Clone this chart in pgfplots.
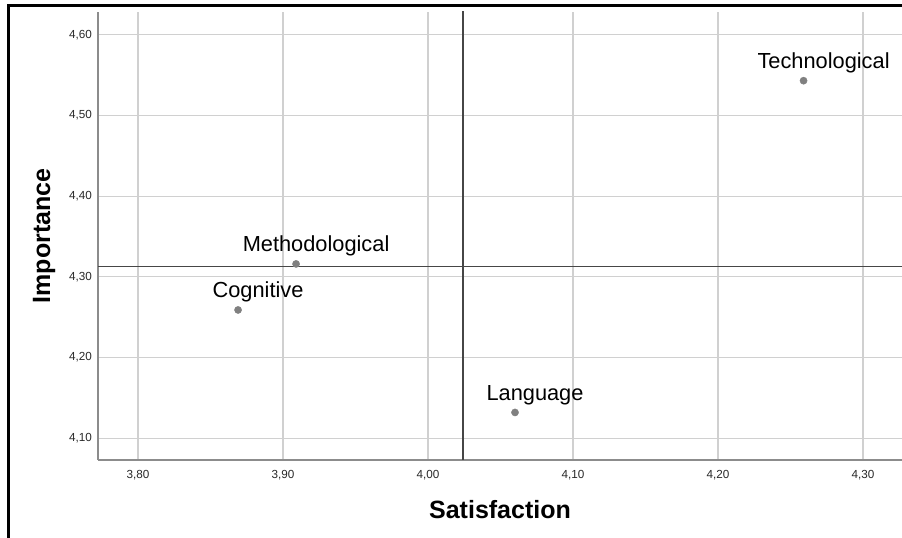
\documentclass[border=0pt]{standalone}
\usepackage{pgfplots}
\pgfplotsset{compat=1.18}
\usepackage{fontspec}
\setmainfont{Liberation Sans}

\definecolor{gridgray}{RGB}{208,208,208}
\definecolor{axisgray}{RGB}{140,140,140}
\definecolor{refgray}{RGB}{70,70,70}
\definecolor{markgray}{RGB}{128,128,128}
\definecolor{ticktext}{RGB}{40,40,40}

% Mean satisfaction and importance per area
\pgfplotstableread{
x      y      label
4.259  4.543  Technological
3.909  4.316  Methodological
3.869  4.259  Cognitive
4.060  4.132  Language
}\areas

\begin{document}
\begin{tikzpicture}
\useasboundingbox (0,0) rectangle (902bp,538bp);
% outer frame (top and left edges)
\draw[black, line width=3bp] (8bp,-5bp) -- (8bp,532.5bp) -- (910bp,532.5bp);
\begin{axis}[
  at={(98bp,78bp)}, anchor=south west,
  scale only axis, width=804bp, height=448bp,
  xmin=3.7724, xmax=4.3269, ymin=4.0731, ymax=4.6281,
  axis x line=bottom, axis y line=left,
  axis line style={axisgray, line width=1.3bp, -},
  xtick={3.8,3.9,4.0,4.1,4.2,4.3},
  ytick={4.1,4.2,4.3,4.4,4.5,4.6},
  major tick length=0pt,
  grid=major,
  major grid style={gridgray, line width=1.2bp},
  /pgf/number format/fixed,
  /pgf/number format/fixed zerofill,
  /pgf/number format/precision=2,
  /pgf/number format/use comma,
  /pgf/number format/assume math mode=true,
  xticklabel style={font=\fontsize{11.7bp}{14bp}\selectfont, text=ticktext,
    anchor=north, inner sep=0pt, yshift=-10bp},
  yticklabel style={font=\fontsize{11.7bp}{14bp}\selectfont, text=ticktext,
    anchor=east, inner sep=0pt, xshift=-6bp},
  xlabel={Satisfaction},
  ylabel={Importance},
  xlabel style={font=\fontsize{25bp}{30bp}\selectfont\bfseries,
    at={(axis description cs:0.5,0)}, anchor=base, inner sep=0pt, yshift=-58bp},
  ylabel style={font=\fontsize{25bp}{30bp}\selectfont\bfseries,
    at={([xshift=-48bp]axis description cs:0,0.5)}, anchor=base, inner sep=0pt},
  clip=true,
]
% reference lines at the means
\addplot[refgray, line width=1.5bp] coordinates {(4.024,4.0) (4.024,4.7)};
\addplot[refgray, line width=1.2bp] coordinates {(3.7,4.3125) (4.4,4.3125)};
% areas
\addplot[only marks, mark=*, mark size=3.6bp,
  mark options={draw=markgray, fill=markgray},
  nodes near coords, point meta=explicit symbolic,
  nodes near coords style={font=\fontsize{21.8bp}{26bp}\selectfont,
    text=black, anchor=base, inner sep=0pt, xshift=20bp, yshift=12bp}]
  table[x=x, y=y, meta=label] {\areas};
\end{axis}
\end{tikzpicture}
\end{document}
